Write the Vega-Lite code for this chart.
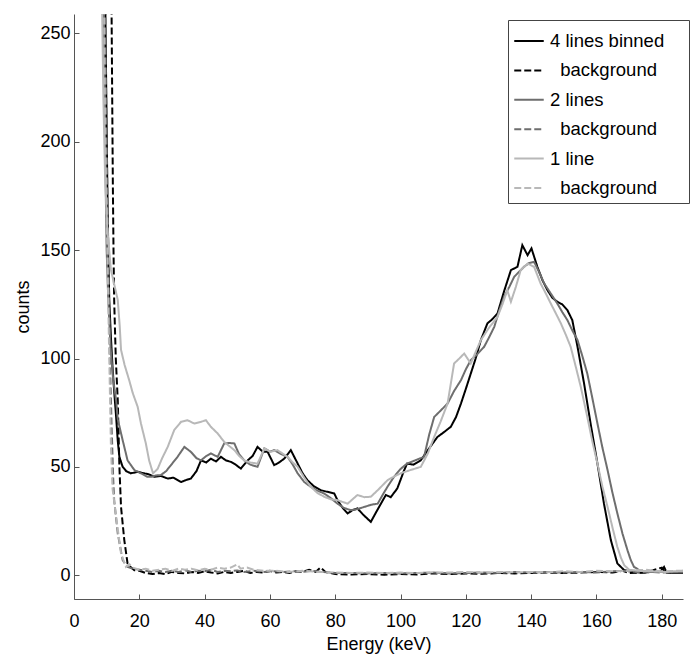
{
  "$schema": "https://vega.github.io/schema/vega-lite/v6.json",
  "autosize": "none",
  "width": 609,
  "height": 585,
  "padding": {"left": 74, "top": 14, "right": 10, "bottom": 57},
  "background": "white",
  "config": {
    "view": {"stroke": null},
    "axis": {
      "domainColor": "#555555", "tickColor": "#555555", "tickSize": -5,
      "labelFont": "Liberation Sans", "labelFontSize": 18, "labelColor": "#000000",
      "titleFont": "Liberation Sans", "titleFontSize": 18, "titleFontWeight": "normal", "titleColor": "#000000",
      "grid": false
    },
    "legend": {
      "labelFont": "Liberation Sans", "labelFontSize": 18.5, "labelColor": "#000000"
    }
  },
  "datasets": {
    "d": [
      {"s":"4 lines binned","x":9.6,"y":262},{"s":"4 lines binned","x":9.9,"y":220},{"s":"4 lines binned","x":10.2,"y":180},{"s":"4 lines binned","x":10.5,"y":150},{"s":"4 lines binned","x":10.8,"y":127},{"s":"4 lines binned","x":11.3,"y":110},{"s":"4 lines binned","x":11.8,"y":96},{"s":"4 lines binned","x":12.3,"y":85},{"s":"4 lines binned","x":12.9,"y":73},{"s":"4 lines binned","x":13.4,"y":62},{"s":"4 lines binned","x":13.9,"y":54.6},{"s":"4 lines binned","x":14.9,"y":50},{"s":"4 lines binned","x":16,"y":48},{"s":"4 lines binned","x":17.4,"y":47},{"s":"4 lines binned","x":19.5,"y":47.7},{"s":"4 lines binned","x":21.5,"y":47},{"s":"4 lines binned","x":23,"y":46.5},{"s":"4 lines binned","x":24.6,"y":45.4},{"s":"4 lines binned","x":26.6,"y":45.8},{"s":"4 lines binned","x":28.7,"y":44.6},{"s":"4 lines binned","x":30.5,"y":45},{"s":"4 lines binned","x":32.8,"y":43},{"s":"4 lines binned","x":34.5,"y":44},{"s":"4 lines binned","x":35.8,"y":44.6},{"s":"4 lines binned","x":37.5,"y":48},{"s":"4 lines binned","x":38.9,"y":53},{"s":"4 lines binned","x":40.5,"y":52},{"s":"4 lines binned","x":41.9,"y":53.8},{"s":"4 lines binned","x":43.5,"y":52.5},{"s":"4 lines binned","x":45,"y":54.6},{"s":"4 lines binned","x":46.5,"y":53},{"s":"4 lines binned","x":48,"y":52.3},{"s":"4 lines binned","x":49.5,"y":51},{"s":"4 lines binned","x":51.1,"y":49.2},{"s":"4 lines binned","x":53.2,"y":53},{"s":"4 lines binned","x":54.7,"y":55},{"s":"4 lines binned","x":56.2,"y":59.2},{"s":"4 lines binned","x":57.8,"y":57},{"s":"4 lines binned","x":59.3,"y":56.9},{"s":"4 lines binned","x":61.3,"y":50.8},{"s":"4 lines binned","x":62.8,"y":52},{"s":"4 lines binned","x":64.4,"y":53.8},{"s":"4 lines binned","x":66.4,"y":57.7},{"s":"4 lines binned","x":68.5,"y":51.5},{"s":"4 lines binned","x":70,"y":47},{"s":"4 lines binned","x":71.5,"y":43.8},{"s":"4 lines binned","x":73.5,"y":41},{"s":"4 lines binned","x":75.6,"y":39.2},{"s":"4 lines binned","x":77.5,"y":38.5},{"s":"4 lines binned","x":79.7,"y":37.7},{"s":"4 lines binned","x":80.7,"y":34.6},{"s":"4 lines binned","x":82.3,"y":31},{"s":"4 lines binned","x":83.8,"y":28.5},{"s":"4 lines binned","x":85.3,"y":30},{"s":"4 lines binned","x":86.8,"y":30.8},{"s":"4 lines binned","x":88.5,"y":28},{"s":"4 lines binned","x":90.9,"y":24.6},{"s":"4 lines binned","x":92.5,"y":29},{"s":"4 lines binned","x":94,"y":33},{"s":"4 lines binned","x":95.5,"y":37},{"s":"4 lines binned","x":97,"y":36},{"s":"4 lines binned","x":99,"y":40},{"s":"4 lines binned","x":101,"y":48},{"s":"4 lines binned","x":102,"y":51.5},{"s":"4 lines binned","x":104,"y":51},{"s":"4 lines binned","x":106.2,"y":53},{"s":"4 lines binned","x":108.5,"y":58},{"s":"4 lines binned","x":111.3,"y":63.8},{"s":"4 lines binned","x":113.3,"y":66},{"s":"4 lines binned","x":115.4,"y":68.5},{"s":"4 lines binned","x":117,"y":73},{"s":"4 lines binned","x":118.5,"y":79.2},{"s":"4 lines binned","x":120,"y":86},{"s":"4 lines binned","x":121.5,"y":93},{"s":"4 lines binned","x":123,"y":100},{"s":"4 lines binned","x":124.6,"y":108.5},{"s":"4 lines binned","x":126.6,"y":116.2},{"s":"4 lines binned","x":128,"y":118},{"s":"4 lines binned","x":129.7,"y":120.8},{"s":"4 lines binned","x":131.7,"y":131},{"s":"4 lines binned","x":133.8,"y":140.8},{"s":"4 lines binned","x":135.8,"y":142.3},{"s":"4 lines binned","x":137.3,"y":152.3},{"s":"4 lines binned","x":138.9,"y":147.7},{"s":"4 lines binned","x":140.1,"y":150.8},{"s":"4 lines binned","x":141.9,"y":142.3},{"s":"4 lines binned","x":143.5,"y":136},{"s":"4 lines binned","x":145,"y":131.5},{"s":"4 lines binned","x":146.5,"y":128},{"s":"4 lines binned","x":148,"y":126.2},{"s":"4 lines binned","x":149.5,"y":125},{"s":"4 lines binned","x":151.1,"y":122.3},{"s":"4 lines binned","x":152.6,"y":117.7},{"s":"4 lines binned","x":154.2,"y":105.4},{"s":"4 lines binned","x":156.2,"y":88.5},{"s":"4 lines binned","x":158.2,"y":70},{"s":"4 lines binned","x":160.3,"y":51.5},{"s":"4 lines binned","x":162.3,"y":33},{"s":"4 lines binned","x":164.4,"y":16.2},{"s":"4 lines binned","x":166.4,"y":5.4},{"s":"4 lines binned","x":168.5,"y":2.3},{"s":"4 lines binned","x":171,"y":1.5},{"s":"4 lines binned","x":174,"y":1.2},{"s":"4 lines binned","x":177,"y":1.5},{"s":"4 lines binned","x":179.5,"y":1.5},{"s":"4 lines binned","x":180.7,"y":3.8},{"s":"4 lines binned","x":181.5,"y":1.2},{"s":"4 lines binned","x":184,"y":1},{"s":"4 lines binned","x":186.5,"y":1},

      {"s":"4 lines bg","x":11.5,"y":262},{"s":"4 lines bg","x":11.7,"y":220},{"s":"4 lines bg","x":11.9,"y":180},{"s":"4 lines bg","x":12.1,"y":150},{"s":"4 lines bg","x":12.3,"y":127},{"s":"4 lines bg","x":12.8,"y":100},{"s":"4 lines bg","x":13.4,"y":80.8},{"s":"4 lines bg","x":13.9,"y":50},{"s":"4 lines bg","x":14.4,"y":31.5},{"s":"4 lines bg","x":15.4,"y":16.2},{"s":"4 lines bg","x":16.4,"y":5.4},{"s":"4 lines bg","x":17.5,"y":3.5},{"s":"4 lines bg","x":18.5,"y":2.3},{"s":"4 lines bg","x":20,"y":2},{"s":"4 lines bg","x":22,"y":1},{"s":"4 lines bg","x":24,"y":0.5},{"s":"4 lines bg","x":26,"y":1},{"s":"4 lines bg","x":28,"y":0.5},{"s":"4 lines bg","x":30,"y":1.5},{"s":"4 lines bg","x":32,"y":1},{"s":"4 lines bg","x":34,"y":0.8},{"s":"4 lines bg","x":36,"y":1.5},{"s":"4 lines bg","x":38,"y":1},{"s":"4 lines bg","x":40,"y":1.8},{"s":"4 lines bg","x":42,"y":1.2},{"s":"4 lines bg","x":44,"y":0.8},{"s":"4 lines bg","x":46,"y":1.5},{"s":"4 lines bg","x":48,"y":1},{"s":"4 lines bg","x":50,"y":1.5},{"s":"4 lines bg","x":52,"y":2},{"s":"4 lines bg","x":54,"y":1},{"s":"4 lines bg","x":56,"y":1.5},{"s":"4 lines bg","x":58,"y":1.2},{"s":"4 lines bg","x":60,"y":2},{"s":"4 lines bg","x":62,"y":1.2},{"s":"4 lines bg","x":64,"y":1.5},{"s":"4 lines bg","x":66,"y":1},{"s":"4 lines bg","x":68,"y":1.8},{"s":"4 lines bg","x":70,"y":1.5},{"s":"4 lines bg","x":72,"y":2.5},{"s":"4 lines bg","x":74,"y":1.5},{"s":"4 lines bg","x":75.5,"y":3.5},{"s":"4 lines bg","x":77,"y":1.5},{"s":"4 lines bg","x":80,"y":0.5},{"s":"4 lines bg","x":85,"y":0.3},{"s":"4 lines bg","x":90,"y":0.5},{"s":"4 lines bg","x":95,"y":0.2},{"s":"4 lines bg","x":100,"y":0.5},{"s":"4 lines bg","x":105,"y":0.3},{"s":"4 lines bg","x":110,"y":0.8},{"s":"4 lines bg","x":115,"y":0.5},{"s":"4 lines bg","x":120,"y":0.8},{"s":"4 lines bg","x":125,"y":0.6},{"s":"4 lines bg","x":130,"y":1},{"s":"4 lines bg","x":135,"y":0.8},{"s":"4 lines bg","x":140,"y":1},{"s":"4 lines bg","x":145,"y":1.2},{"s":"4 lines bg","x":150,"y":1},{"s":"4 lines bg","x":155,"y":1.2},{"s":"4 lines bg","x":160,"y":1.5},{"s":"4 lines bg","x":165,"y":1.2},{"s":"4 lines bg","x":168,"y":2},{"s":"4 lines bg","x":170,"y":1},{"s":"4 lines bg","x":175,"y":1.2},{"s":"4 lines bg","x":180,"y":3.5},{"s":"4 lines bg","x":181,"y":1.2},{"s":"4 lines bg","x":185,"y":1},{"s":"4 lines bg","x":186.5,"y":1},

      {"s":"2 lines","x":9.1,"y":262},{"s":"2 lines","x":9.4,"y":220},{"s":"2 lines","x":9.7,"y":180},{"s":"2 lines","x":10,"y":150},{"s":"2 lines","x":10.5,"y":127},{"s":"2 lines","x":11.2,"y":105},{"s":"2 lines","x":12,"y":90},{"s":"2 lines","x":12.9,"y":80.8},{"s":"2 lines","x":13.4,"y":72},{"s":"2 lines","x":14.9,"y":62.3},{"s":"2 lines","x":16.4,"y":53},{"s":"2 lines","x":18.5,"y":48.5},{"s":"2 lines","x":20.5,"y":47},{"s":"2 lines","x":22.5,"y":45.4},{"s":"2 lines","x":23.6,"y":45.4},{"s":"2 lines","x":25,"y":46},{"s":"2 lines","x":26.6,"y":46.2},{"s":"2 lines","x":28.2,"y":48},{"s":"2 lines","x":29.7,"y":50.8},{"s":"2 lines","x":31.7,"y":54.6},{"s":"2 lines","x":33.8,"y":59.2},{"s":"2 lines","x":35.8,"y":56.9},{"s":"2 lines","x":37.5,"y":54},{"s":"2 lines","x":38.9,"y":53},{"s":"2 lines","x":40.5,"y":55},{"s":"2 lines","x":41.9,"y":56.2},{"s":"2 lines","x":44,"y":54.6},{"s":"2 lines","x":46,"y":60.8},{"s":"2 lines","x":47.5,"y":61},{"s":"2 lines","x":49.1,"y":60.8},{"s":"2 lines","x":50.5,"y":56},{"s":"2 lines","x":52.1,"y":53},{"s":"2 lines","x":54,"y":51},{"s":"2 lines","x":56.2,"y":50},{"s":"2 lines","x":58.3,"y":58.5},{"s":"2 lines","x":60,"y":57},{"s":"2 lines","x":61.3,"y":57.7},{"s":"2 lines","x":63.3,"y":56},{"s":"2 lines","x":65.4,"y":54.6},{"s":"2 lines","x":67,"y":51},{"s":"2 lines","x":68.5,"y":47},{"s":"2 lines","x":70.5,"y":43},{"s":"2 lines","x":72.5,"y":40.8},{"s":"2 lines","x":74.5,"y":39},{"s":"2 lines","x":76.6,"y":37.7},{"s":"2 lines","x":78.7,"y":35.5},{"s":"2 lines","x":80.7,"y":33},{"s":"2 lines","x":82.7,"y":31},{"s":"2 lines","x":84.8,"y":30},{"s":"2 lines","x":86.8,"y":30.5},{"s":"2 lines","x":88.9,"y":31.5},{"s":"2 lines","x":91,"y":32.5},{"s":"2 lines","x":93,"y":33},{"s":"2 lines","x":94.5,"y":37},{"s":"2 lines","x":96,"y":40.8},{"s":"2 lines","x":98,"y":45.4},{"s":"2 lines","x":100,"y":49},{"s":"2 lines","x":102,"y":51.5},{"s":"2 lines","x":104.5,"y":53},{"s":"2 lines","x":107.2,"y":54.6},{"s":"2 lines","x":108.8,"y":65},{"s":"2 lines","x":110.3,"y":73},{"s":"2 lines","x":112.3,"y":76},{"s":"2 lines","x":114.4,"y":79.2},{"s":"2 lines","x":116.4,"y":85},{"s":"2 lines","x":118.5,"y":90},{"s":"2 lines","x":120,"y":95},{"s":"2 lines","x":121.5,"y":99.2},{"s":"2 lines","x":123.5,"y":102},{"s":"2 lines","x":125.6,"y":105.4},{"s":"2 lines","x":127.2,"y":110},{"s":"2 lines","x":128.7,"y":114.6},{"s":"2 lines","x":130.2,"y":122},{"s":"2 lines","x":131.7,"y":128.5},{"s":"2 lines","x":133.3,"y":133},{"s":"2 lines","x":134.8,"y":137.7},{"s":"2 lines","x":136.3,"y":140},{"s":"2 lines","x":137.8,"y":142.3},{"s":"2 lines","x":139.3,"y":144},{"s":"2 lines","x":140.9,"y":144.6},{"s":"2 lines","x":142.4,"y":140},{"s":"2 lines","x":144,"y":134.6},{"s":"2 lines","x":146,"y":130},{"s":"2 lines","x":148,"y":125.4},{"s":"2 lines","x":149.5,"y":121.5},{"s":"2 lines","x":151.1,"y":117.7},{"s":"2 lines","x":152.6,"y":113},{"s":"2 lines","x":154.2,"y":108.5},{"s":"2 lines","x":155.7,"y":101},{"s":"2 lines","x":157.2,"y":93},{"s":"2 lines","x":158.7,"y":82},{"s":"2 lines","x":160.3,"y":70},{"s":"2 lines","x":161.8,"y":59},{"s":"2 lines","x":163.4,"y":48.5},{"s":"2 lines","x":164.9,"y":38},{"s":"2 lines","x":166.4,"y":28.5},{"s":"2 lines","x":168,"y":19},{"s":"2 lines","x":169.5,"y":11.5},{"s":"2 lines","x":170.5,"y":7},{"s":"2 lines","x":171.5,"y":3.8},{"s":"2 lines","x":173.5,"y":2},{"s":"2 lines","x":176,"y":1.5},{"s":"2 lines","x":180,"y":1.5},{"s":"2 lines","x":184,"y":1.2},{"s":"2 lines","x":186.5,"y":1.2},

      {"s":"2 lines bg","x":9.5,"y":262},{"s":"2 lines bg","x":10,"y":200},{"s":"2 lines bg","x":10.5,"y":150},{"s":"2 lines bg","x":11,"y":100},{"s":"2 lines bg","x":11.5,"y":70},{"s":"2 lines bg","x":12,"y":45},{"s":"2 lines bg","x":12.3,"y":34.6},{"s":"2 lines bg","x":13.4,"y":19.2},{"s":"2 lines bg","x":14.9,"y":6.9},{"s":"2 lines bg","x":16.4,"y":3.8},{"s":"2 lines bg","x":18,"y":3},{"s":"2 lines bg","x":20,"y":2.5},{"s":"2 lines bg","x":22,"y":2},{"s":"2 lines bg","x":24,"y":1.5},{"s":"2 lines bg","x":26,"y":2},{"s":"2 lines bg","x":28,"y":1.5},{"s":"2 lines bg","x":30,"y":2},{"s":"2 lines bg","x":32,"y":1.5},{"s":"2 lines bg","x":34,"y":2.2},{"s":"2 lines bg","x":36,"y":1.5},{"s":"2 lines bg","x":38,"y":2},{"s":"2 lines bg","x":40,"y":1.8},{"s":"2 lines bg","x":42,"y":2.5},{"s":"2 lines bg","x":44,"y":1.5},{"s":"2 lines bg","x":46,"y":2},{"s":"2 lines bg","x":48,"y":1.8},{"s":"2 lines bg","x":50,"y":2.2},{"s":"2 lines bg","x":52,"y":1.5},{"s":"2 lines bg","x":55,"y":2},{"s":"2 lines bg","x":58,"y":1.5},{"s":"2 lines bg","x":61,"y":1.8},{"s":"2 lines bg","x":64,"y":1.5},{"s":"2 lines bg","x":67,"y":1.8},{"s":"2 lines bg","x":70,"y":1.5},{"s":"2 lines bg","x":73,"y":2},{"s":"2 lines bg","x":76,"y":1.5},{"s":"2 lines bg","x":80,"y":1},{"s":"2 lines bg","x":85,"y":1},{"s":"2 lines bg","x":90,"y":0.8},{"s":"2 lines bg","x":95,"y":1},{"s":"2 lines bg","x":100,"y":0.8},{"s":"2 lines bg","x":105,"y":1},{"s":"2 lines bg","x":110,"y":1.2},{"s":"2 lines bg","x":115,"y":0.8},{"s":"2 lines bg","x":120,"y":1},{"s":"2 lines bg","x":125,"y":1.2},{"s":"2 lines bg","x":130,"y":1},{"s":"2 lines bg","x":135,"y":1.5},{"s":"2 lines bg","x":140,"y":1.2},{"s":"2 lines bg","x":145,"y":1.5},{"s":"2 lines bg","x":150,"y":1.2},{"s":"2 lines bg","x":155,"y":1.5},{"s":"2 lines bg","x":160,"y":1.2},{"s":"2 lines bg","x":165,"y":1.8},{"s":"2 lines bg","x":170,"y":2},{"s":"2 lines bg","x":173,"y":1.2},{"s":"2 lines bg","x":176,"y":1.5},{"s":"2 lines bg","x":180,"y":1.2},{"s":"2 lines bg","x":184,"y":1.5},{"s":"2 lines bg","x":186.5,"y":1.5},

      {"s":"1 line","x":8.6,"y":262},{"s":"1 line","x":9,"y":220},{"s":"1 line","x":9.5,"y":185},{"s":"1 line","x":10.2,"y":160},{"s":"1 line","x":11.3,"y":141},{"s":"1 line","x":12.5,"y":133},{"s":"1 line","x":13.4,"y":127},{"s":"1 line","x":14,"y":115},{"s":"1 line","x":14.4,"y":104},{"s":"1 line","x":15.5,"y":97},{"s":"1 line","x":16.9,"y":90},{"s":"1 line","x":18,"y":84},{"s":"1 line","x":19.5,"y":77.7},{"s":"1 line","x":20.5,"y":70},{"s":"1 line","x":22,"y":60.8},{"s":"1 line","x":23,"y":53},{"s":"1 line","x":24.2,"y":47},{"s":"1 line","x":25.6,"y":49},{"s":"1 line","x":27,"y":54},{"s":"1 line","x":28.7,"y":59.2},{"s":"1 line","x":30.7,"y":67},{"s":"1 line","x":32.8,"y":70.8},{"s":"1 line","x":34.8,"y":71.5},{"s":"1 line","x":36.8,"y":70},{"s":"1 line","x":38.9,"y":70.8},{"s":"1 line","x":40.4,"y":71.5},{"s":"1 line","x":41.9,"y":68.5},{"s":"1 line","x":44,"y":65.4},{"s":"1 line","x":46,"y":61.5},{"s":"1 line","x":49.1,"y":57.7},{"s":"1 line","x":50.6,"y":55},{"s":"1 line","x":52.1,"y":53},{"s":"1 line","x":54,"y":52},{"s":"1 line","x":56.2,"y":51.5},{"s":"1 line","x":58.3,"y":58.5},{"s":"1 line","x":60.2,"y":57},{"s":"1 line","x":62.3,"y":57.7},{"s":"1 line","x":64,"y":56},{"s":"1 line","x":65.4,"y":54.6},{"s":"1 line","x":67,"y":52},{"s":"1 line","x":68.5,"y":50},{"s":"1 line","x":70.5,"y":45},{"s":"1 line","x":72.5,"y":40.8},{"s":"1 line","x":74.5,"y":38},{"s":"1 line","x":76.6,"y":36.2},{"s":"1 line","x":78.7,"y":35},{"s":"1 line","x":80.7,"y":34.6},{"s":"1 line","x":83.8,"y":33},{"s":"1 line","x":85.3,"y":35},{"s":"1 line","x":86.8,"y":37},{"s":"1 line","x":88.9,"y":36},{"s":"1 line","x":90.9,"y":36.2},{"s":"1 line","x":93,"y":39.2},{"s":"1 line","x":96,"y":43.8},{"s":"1 line","x":98,"y":45.5},{"s":"1 line","x":100,"y":47},{"s":"1 line","x":103,"y":48.5},{"s":"1 line","x":106.2,"y":50},{"s":"1 line","x":108.3,"y":56},{"s":"1 line","x":110.3,"y":63.8},{"s":"1 line","x":112.3,"y":71},{"s":"1 line","x":114.4,"y":79.2},{"s":"1 line","x":116.4,"y":97.7},{"s":"1 line","x":118,"y":100},{"s":"1 line","x":119.5,"y":102.3},{"s":"1 line","x":121.5,"y":97.7},{"s":"1 line","x":123,"y":103},{"s":"1 line","x":124.6,"y":108.5},{"s":"1 line","x":127,"y":114},{"s":"1 line","x":129.7,"y":119.2},{"s":"1 line","x":131.2,"y":125},{"s":"1 line","x":132.7,"y":131.5},{"s":"1 line","x":133.8,"y":126.2},{"s":"1 line","x":135.3,"y":133},{"s":"1 line","x":136.8,"y":140.8},{"s":"1 line","x":138.9,"y":143.8},{"s":"1 line","x":140.9,"y":142.3},{"s":"1 line","x":142.9,"y":134.6},{"s":"1 line","x":144.5,"y":130},{"s":"1 line","x":146,"y":125.4},{"s":"1 line","x":147.5,"y":121},{"s":"1 line","x":149.1,"y":116.2},{"s":"1 line","x":150.6,"y":111},{"s":"1 line","x":152.1,"y":105.4},{"s":"1 line","x":153.7,"y":96},{"s":"1 line","x":155.2,"y":86.9},{"s":"1 line","x":157.2,"y":73},{"s":"1 line","x":158.7,"y":62},{"s":"1 line","x":160.3,"y":51.5},{"s":"1 line","x":161.8,"y":41},{"s":"1 line","x":163.4,"y":31.5},{"s":"1 line","x":164.9,"y":22},{"s":"1 line","x":166.4,"y":13},{"s":"1 line","x":167.5,"y":8},{"s":"1 line","x":168.5,"y":4.6},{"s":"1 line","x":170,"y":2.5},{"s":"1 line","x":173,"y":2},{"s":"1 line","x":177,"y":1.8},{"s":"1 line","x":181,"y":1.5},{"s":"1 line","x":184,"y":1.8},{"s":"1 line","x":186.5,"y":2},

      {"s":"1 line bg","x":9.2,"y":262},{"s":"1 line bg","x":9.6,"y":200},{"s":"1 line bg","x":10.2,"y":150},{"s":"1 line bg","x":10.8,"y":100},{"s":"1 line bg","x":11.3,"y":60},{"s":"1 line bg","x":11.8,"y":40},{"s":"1 line bg","x":12.9,"y":27},{"s":"1 line bg","x":14.4,"y":10},{"s":"1 line bg","x":15.9,"y":3.8},{"s":"1 line bg","x":17,"y":5},{"s":"1 line bg","x":18,"y":3.5},{"s":"1 line bg","x":20,"y":2.5},{"s":"1 line bg","x":22,"y":3},{"s":"1 line bg","x":24,"y":2},{"s":"1 line bg","x":26,"y":2.5},{"s":"1 line bg","x":28,"y":3},{"s":"1 line bg","x":30,"y":2},{"s":"1 line bg","x":32,"y":3},{"s":"1 line bg","x":34,"y":2.5},{"s":"1 line bg","x":36,"y":3},{"s":"1 line bg","x":38,"y":2.2},{"s":"1 line bg","x":40,"y":3},{"s":"1 line bg","x":42,"y":2.5},{"s":"1 line bg","x":44,"y":3.5},{"s":"1 line bg","x":46,"y":3},{"s":"1 line bg","x":48,"y":3.5},{"s":"1 line bg","x":50,"y":5},{"s":"1 line bg","x":51,"y":3},{"s":"1 line bg","x":53,"y":3.5},{"s":"1 line bg","x":55,"y":2.5},{"s":"1 line bg","x":58,"y":2},{"s":"1 line bg","x":62,"y":2},{"s":"1 line bg","x":66,"y":1.5},{"s":"1 line bg","x":70,"y":2},{"s":"1 line bg","x":75,"y":1.5},{"s":"1 line bg","x":80,"y":1.2},{"s":"1 line bg","x":85,"y":1},{"s":"1 line bg","x":90,"y":1.2},{"s":"1 line bg","x":95,"y":1},{"s":"1 line bg","x":100,"y":1.2},{"s":"1 line bg","x":105,"y":1},{"s":"1 line bg","x":110,"y":1.3},{"s":"1 line bg","x":115,"y":1.2},{"s":"1 line bg","x":120,"y":1.5},{"s":"1 line bg","x":125,"y":1.2},{"s":"1 line bg","x":130,"y":1.5},{"s":"1 line bg","x":135,"y":1.3},{"s":"1 line bg","x":140,"y":1.5},{"s":"1 line bg","x":145,"y":1.3},{"s":"1 line bg","x":150,"y":1.8},{"s":"1 line bg","x":155,"y":1.5},{"s":"1 line bg","x":160,"y":2},{"s":"1 line bg","x":165,"y":1.8},{"s":"1 line bg","x":170,"y":2},{"s":"1 line bg","x":175,"y":2.5},{"s":"1 line bg","x":180,"y":1.8},{"s":"1 line bg","x":184,"y":2},{"s":"1 line bg","x":186.5,"y":2}
    ]
  },
  "data": {"name": "d"},
  "mark": {"type": "line", "clip": true, "strokeWidth": 2},
  "encoding": {
    "x": {
      "field": "x", "type": "quantitative",
      "scale": {"domain": [0, 186.5], "nice": false, "zero": false},
      "axis": {"title": "Energy (keV)", "values": [0, 20, 40, 60, 80, 100, 120, 140, 160, 180], "labelPadding": 18, "titlePadding": 5, "labelFlush": false}
    },
    "y": {
      "field": "y", "type": "quantitative",
      "scale": {"domain": [-11, 259], "nice": false, "zero": false},
      "axis": {"title": "counts", "values": [0, 50, 100, 150, 200, 250], "labelPadding": 9, "titlePadding": 7, "labelFlush": false}
    },
    "color": {
      "field": "s", "type": "nominal",
      "scale": {
        "domain": ["4 lines binned", "4 lines bg", "2 lines", "2 lines bg", "1 line", "1 line bg"],
        "range": ["#000000", "#000000", "#6e6e6e", "#6e6e6e", "#b8b8b8", "#b8b8b8"]
      },
      "legend": {
        "title": null, "orient": "none", "legendX": 434, "legendY": 6,
        "strokeColor": "#444444", "fillColor": "#ffffff", "padding": 5,
        "symbolType": "stroke", "symbolSize": 870, "symbolStrokeWidth": 2,
        "labelOffset": 5, "rowPadding": 3.4,
        "labelExpr": "(indexof(datum.label, 'bg') >= 0 ? '\\u200b\\u00a0\\u00a0background' : datum.label) + '\\u00a0\\u00a0\\u00a0\\u2009\\u200b'"
      }
    },
    "strokeDash": {
      "field": "s", "type": "nominal",
      "scale": {
        "domain": ["4 lines binned", "4 lines bg", "2 lines", "2 lines bg", "1 line", "1 line bg"],
        "range": [[1, 0], [7, 3], [1, 0], [7, 3], [1, 0], [7, 3]]
      },
      "legend": {
        "title": null, "orient": "none", "legendX": 434, "legendY": 6,
        "strokeColor": "#444444", "fillColor": "#ffffff", "padding": 5,
        "symbolType": "stroke", "symbolSize": 870, "symbolStrokeWidth": 2,
        "labelOffset": 5, "rowPadding": 3.4,
        "labelExpr": "(indexof(datum.label, 'bg') >= 0 ? '\\u200b\\u00a0\\u00a0background' : datum.label) + '\\u00a0\\u00a0\\u00a0\\u2009\\u200b'"
      }
    }
  }
}
